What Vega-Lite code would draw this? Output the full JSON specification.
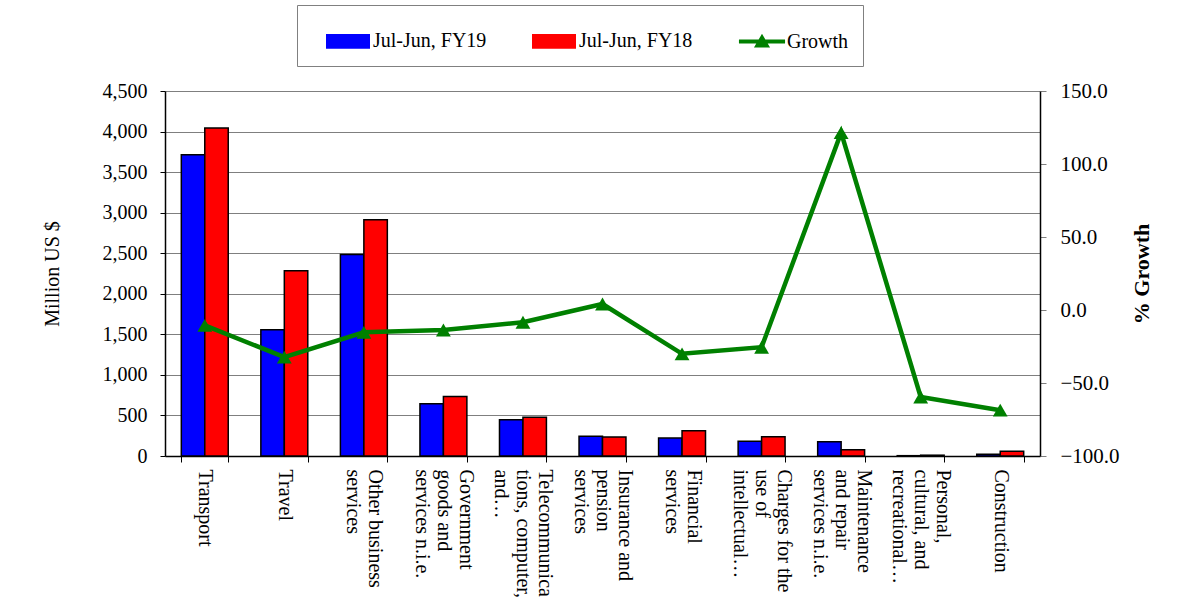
{
  "$schema": "https://vega.github.io/schema/vega-lite/v6.json",
  "width": 875,
  "height": 365,
  "autosize": {"type": "none"},
  "padding": {"left": 165, "top": 91, "right": 146, "bottom": 141},
  "background": "white",
  "config": {
    "font": "Liberation Serif",
    "view": {"stroke": null},
    "axis": {"labelColor": "black", "titleColor": "black", "labelFont": "Liberation Serif", "titleFont": "Liberation Serif"}
  },
  "datasets": {
    "bars": [
      {"category": "Transport", "series": "Jul-Jun, FY19", "value": 3714},
      {"category": "Transport", "series": "Jul-Jun, FY18", "value": 4045},
      {"category": "Travel", "series": "Jul-Jun, FY19", "value": 1558},
      {"category": "Travel", "series": "Jul-Jun, FY18", "value": 2283},
      {"category": "Other business|services", "series": "Jul-Jun, FY19", "value": 2484},
      {"category": "Other business|services", "series": "Jul-Jun, FY18", "value": 2914},
      {"category": "Government|goods and|services n.i.e.", "series": "Jul-Jun, FY19", "value": 644},
      {"category": "Government|goods and|services n.i.e.", "series": "Jul-Jun, FY18", "value": 734},
      {"category": "Telecommunica|tions, computer,|and…", "series": "Jul-Jun, FY19", "value": 447},
      {"category": "Telecommunica|tions, computer,|and…", "series": "Jul-Jun, FY18", "value": 479},
      {"category": "Insurance and|pension|services", "series": "Jul-Jun, FY19", "value": 244},
      {"category": "Insurance and|pension|services", "series": "Jul-Jun, FY18", "value": 234},
      {"category": "Financial|services", "series": "Jul-Jun, FY19", "value": 221},
      {"category": "Financial|services", "series": "Jul-Jun, FY18", "value": 312},
      {"category": "Charges for the|use of|intellectual…", "series": "Jul-Jun, FY19", "value": 181},
      {"category": "Charges for the|use of|intellectual…", "series": "Jul-Jun, FY18", "value": 236},
      {"category": "Maintenance|and repair|services n.i.e.", "series": "Jul-Jun, FY19", "value": 176},
      {"category": "Maintenance|and repair|services n.i.e.", "series": "Jul-Jun, FY18", "value": 78},
      {"category": "Personal,|cultural, and|recreational…", "series": "Jul-Jun, FY19", "value": 4},
      {"category": "Personal,|cultural, and|recreational…", "series": "Jul-Jun, FY18", "value": 10},
      {"category": "Construction", "series": "Jul-Jun, FY19", "value": 22},
      {"category": "Construction", "series": "Jul-Jun, FY18", "value": 58}
    ],
    "growth": [
      {"category": "Transport", "series": "Growth", "growth": -10.5},
      {"category": "Travel", "series": "Growth", "growth": -32.3},
      {"category": "Other business|services", "series": "Growth", "growth": -15.3},
      {"category": "Government|goods and|services n.i.e.", "series": "Growth", "growth": -13.7},
      {"category": "Telecommunica|tions, computer,|and…", "series": "Growth", "growth": -8.4},
      {"category": "Insurance and|pension|services", "series": "Growth", "growth": 4.1},
      {"category": "Financial|services", "series": "Growth", "growth": -30.0},
      {"category": "Charges for the|use of|intellectual…", "series": "Growth", "growth": -25.5},
      {"category": "Maintenance|and repair|services n.i.e.", "series": "Growth", "growth": 121.5},
      {"category": "Personal,|cultural, and|recreational…", "series": "Growth", "growth": -59.6},
      {"category": "Construction", "series": "Growth", "growth": -68.6}
    ]
  },
  "layer": [
    {
      "data": {"name": "bars"},
      "mark": {"type": "bar", "stroke": "black", "strokeWidth": 1.5},
      "encoding": {
        "x": {
          "field": "category",
          "type": "nominal",
          "sort": ["Transport", "Travel", "Other business|services", "Government|goods and|services n.i.e.", "Telecommunica|tions, computer,|and…", "Insurance and|pension|services", "Financial|services", "Charges for the|use of|intellectual…", "Maintenance|and repair|services n.i.e.", "Personal,|cultural, and|recreational…", "Construction"],
          "scale": {"paddingInner": 0.41, "paddingOuter": 0.205},
          "axis": {
            "title": null,
            "tickBand": "extent",
            "tickSize": 6,
            "tickColor": "black",
            "domainColor": "black",
            "domainWidth": 1.5,
            "labelAngle": 90,
            "labelAlign": "left",
            "labelBaseline": "middle",
            "labelFontSize": 20,
            "labelLineHeight": 22,
            "labelPadding": 7,
            "labelLimit": 300,
            "labelOverlap": false,
            "labelOffset": {"expr": "(length(split(datum.label, '|')) - 1) * 11"},
            "labelExpr": "split(datum.label, '|')"
          }
        },
        "xOffset": {"field": "series", "type": "nominal", "sort": ["Jul-Jun, FY19", "Jul-Jun, FY18"]},
        "y": {
          "field": "value",
          "type": "quantitative",
          "scale": {"domain": [0, 4500], "nice": false},
          "axis": {
            "title": "Million US $",
            "values": [0, 500, 1000, 1500, 2000, 2500, 3000, 3500, 4000, 4500],
            "format": ",.0f",
            "grid": true,
            "gridColor": "#7f7f7f",
            "gridWidth": 1,
            "domainColor": "black",
            "domainWidth": 1.5,
            "tickColor": "black",
            "tickSize": 5,
            "labelFontSize": 20,
            "labelPadding": 13,
            "titleFontSize": 20,
            "titleFontWeight": "normal",
            "titlePadding": 40
          }
        },
        "color": {
          "field": "series",
          "type": "nominal",
          "scale": {"domain": ["Jul-Jun, FY19", "Jul-Jun, FY18", "Growth"], "range": ["#0000FF", "#FF0000", "#008000"]},
          "legend": {
            "title": " ",
            "titleOrient": "left",
            "titlePadding": 15,
            "orient": "none",
            "legendX": 132,
            "legendY": -86,
            "direction": "horizontal",
            "strokeColor": "#808080",
            "fillColor": "white",
            "padding": 14,
            "symbolSize": 1764,
            "labelFontSize": 20,
            "labelFont": "Liberation Serif",
            "labelColor": "black",
            "labelOffset": 3,
            "columnPadding": 42,
            "symbolOpacity": 1,
            "symbolStrokeWidth": 2,
            "symbolType": {"expr": "(datum.value === 'Growth' ? 'M-1.05,-0.05H1.05V0.05H-1.05ZM-0.3,0.24L0,-0.27L0.3,0.24Z' : 'M-1,-0.3H1V0.3H-1Z')"},
            "symbolStrokeColor": {"expr": "(datum.value === 'Growth' ? '#008000' : 'black')"}
          }
        }
      }
    },
    {
      "data": {"name": "growth"},
      "mark": {"type": "line", "strokeWidth": 4.5, "point": {"shape": "triangle-up", "size": 220, "filled": true, "opacity": 1}},
      "encoding": {
        "x": {
          "field": "category",
          "type": "nominal",
          "sort": ["Transport", "Travel", "Other business|services", "Government|goods and|services n.i.e.", "Telecommunica|tions, computer,|and…", "Insurance and|pension|services", "Financial|services", "Charges for the|use of|intellectual…", "Maintenance|and repair|services n.i.e.", "Personal,|cultural, and|recreational…", "Construction"]
        },
        "y": {
          "field": "growth",
          "type": "quantitative",
          "scale": {"domain": [-100, 150], "nice": false},
          "axis": {
            "orient": "right",
            "title": "% Growth",
            "values": [-100, -50, 0, 50, 100, 150],
            "format": ".1f",
            "grid": false,
            "domainColor": "black",
            "domainWidth": 1.5,
            "tickColor": "#7f7f7f",
            "tickSize": 6,
            "labelFontSize": 21,
            "labelPadding": 14,
            "titleFontSize": 22,
            "titleFontWeight": "bold",
            "titleAngle": 270,
            "titleBaseline": "top",
            "titlePadding": 12
          }
        },
        "color": {"field": "series", "type": "nominal"}
      }
    }
  ],
  "resolve": {"scale": {"y": "independent"}}
}
